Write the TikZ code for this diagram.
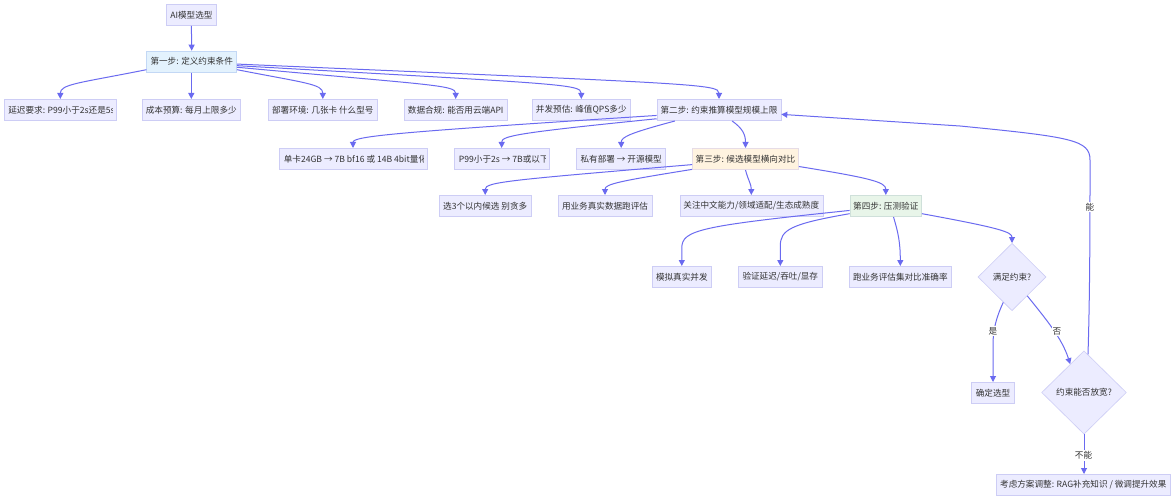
\documentclass[tikz,border=0pt]{standalone}
\usepackage{fontspec}
\setmainfont{Noto Sans CJK SC}
\usetikzlibrary{arrows.meta,shapes.geometric,calc}
\definecolor{nfill}{HTML}{ECECFF}
\definecolor{nbord}{HTML}{CDCDF5}
\definecolor{bluefill}{HTML}{E3F2FD}
\definecolor{bluebord}{HTML}{C3D8F5}
\definecolor{orfill}{HTML}{FFF3E0}
\definecolor{orbord}{HTML}{E6DCE6}
\definecolor{grfill}{HTML}{E8F5E9}
\definecolor{grbord}{HTML}{CFE0DA}
\definecolor{edgec}{HTML}{6A6AF0}
\definecolor{txtc}{HTML}{333333}
\tikzset{
  box/.style={rectangle, draw=nbord, fill=nfill, line width=0.6pt, minimum height=21.4pt, inner sep=0pt, text=txtc, font=\fontsize{8.6pt}{10pt}\selectfont},
  stepblue/.style={box, fill=bluefill, draw=bluebord},
  steporange/.style={box, fill=orfill, draw=orbord},
  stepgreen/.style={box, fill=grfill, draw=grbord},
  dia/.style={diamond, draw=nbord, fill=nfill, line width=0.6pt, inner sep=0pt, text=txtc, font=\fontsize{8.6pt}{10pt}\selectfont},
  txt/.style={inner sep=0pt, text=txtc, font=\fontsize{8.6pt}{10pt}\selectfont},
  edge/.style={draw=edgec, line width=1pt, -{Triangle[length=6pt,width=6pt]}},
  lbl/.style={fill=white, inner sep=1.2pt, text=txtc, font=\fontsize{8.6pt}{10pt}\selectfont},
}
\begin{document}
\begin{tikzpicture}[x=1pt,y=-1pt]
\useasboundingbox[fill=white] (0,0) rectangle (1175,500);

% nodes
\node[box, minimum width=50.6pt] (ai) at (191.4,14.8) {AI模型选型};
\node[stepblue, minimum width=90pt] (s1) at (191.7,61.7) {第一步: 定义约束条件};

\node[box, minimum width=112.7pt] (nlat) at (60.3,110) {};
\node[box, minimum width=97.3pt] (ncost) at (191.3,110) {成本预算: 每月上限多少};
\node[box, minimum width=109pt] (ndep) at (322.8,110) {部署环境: 几张卡 什么型号};
\node[box, minimum width=103.3pt] (ndata) at (455.7,110) {数据合规: 能否用云端API};
\node[box, minimum width=97.3pt] (nqps) at (581.3,110) {并发预估: 峰值QPS多少};
\node[box, minimum width=124pt] (s2) at (719,110) {第二步: 约束推算模型规模上限};

\node[box, minimum width=148.2pt] (ncard) at (353,159) {};
\node[box, minimum width=95.3pt] (np99) at (501.7,159) {};
\node[box, minimum width=89pt] (npriv) at (621.2,159) {私有部署 → 开源模型};
\node[steporange, minimum width=106.2pt] (s3) at (745.5,159) {第三步: 候选模型横向对比};

\node[box, minimum width=92.5pt] (npick) at (485.2,206) {选3个以内候选 别贪多};
\node[box, minimum width=94pt] (nreal) at (605,206) {用业务真实数据跑评估};
\node[box, minimum width=143pt] (ncn) at (751.3,206) {关注中文能力/领域适配/生态成熟度};
\node[stepgreen, minimum width=71.7pt] (s4) at (885.8,206) {第四步: 压测验证};

\node[box, minimum width=59.7pt] (nsim) at (681.8,277) {模拟真实并发};
\node[box, minimum width=84pt] (nver) at (780.3,277) {验证延迟/吞吐/显存};
\node[box, minimum width=102.7pt] (nrun) at (900.3,277) {跑业务评估集对比准确率};
\node[dia, minimum width=68pt, minimum height=67.4pt] (d1) at (1012,277) {满足约束?};

\node[box, minimum width=42.6pt, minimum height=21pt] (nok) at (993,392.8) {确定选型};
\node[dia, minimum width=84.7pt, minimum height=83.3pt] (d2) at (1084,392.5) {约束能否放宽?};
\node[box, minimum width=174.7pt] (nadj) at (1083.3,485) {考虑方案调整: RAG补充知识 / 微调提升效果};

% clipped texts
\begin{scope}
\clip ([xshift=4pt]nlat.south west) rectangle ([xshift=-4pt]nlat.north east);
\node[txt, anchor=west] (tlat) at ([xshift=4.5pt]nlat.west) {延迟要求: P99小于2s还是5s};
\end{scope}
\begin{scope}
\clip ([xshift=4pt]ncard.south west) rectangle ([xshift=-4pt]ncard.north east);
\node[txt, anchor=west] (tcard) at ([xshift=5pt]ncard.west) {单卡24GB → 7B bf16 或 14B 4bit量化};
\end{scope}
\begin{scope}
\clip ([xshift=4pt]np99.south west) rectangle ([xshift=-4pt]np99.north east);
\node[txt, anchor=west] (tp99) at ([xshift=5pt]np99.west) {P99小于2s → 7B或以下};
\end{scope}

% edges
\draw[edge] (ai.south) -- (s1.north);
\draw[edge] (s1.190) .. controls (80,83) and (60.3,84) .. (nlat.north);
\draw[edge] (s1.south -| ncost.north) -- (ncost.north);
\draw[edge] (s1.-10) .. controls (305,83) and (322.8,84) .. (ndep.north);
\draw[edge] (s1.-7) .. controls (430,85) and (455.7,85) .. (ndata.north);
\draw[edge] (s1.-5) .. controls (560,84) and (581.3,84) .. (nqps.north);
\draw[edge] (s1.-3) .. controls (700,84) and (719,84) .. (s2.north);

\draw[edge] (s2.185) .. controls (400,132) and (353,136) .. (ncard.north);
\draw[edge] (s2.188) .. controls (515,133) and (501.7,136) .. (np99.north);
\draw[edge] (s2.194) .. controls (630,133) and (621.2,137) .. (npriv.north);
\draw[edge] (s2.320) .. controls (742,128) and (745.5,134) .. (s3.north);

\draw[edge] (s3.186.5) .. controls (510,180) and (485.2,182) .. (npick.north);
\draw[edge] (s3.191) .. controls (620,181) and (605,184) .. (nreal.north);
\draw[edge] (s3.south) .. controls (748,180) and (751.3,184) .. (ncn.north);
\draw[edge] (s3.352.5) .. controls (870,178) and (885.8,182) .. (s4.north);

\draw[edge] (s4.187) .. controls (700,226) and (681.8,230) .. (681.8,248) -- (nsim.north);
\draw[edge] (s4.192.5) .. controls (790,224) and (780.3,230) .. (780.3,246) -- (nver.north);
\draw[edge] (s4.305) .. controls (898,232) and (900.3,242) .. (nrun.north);
\draw[edge] (s4.348.5) .. controls (1000,228) and (1012,232) .. (d1.north);

\draw[edge] (d1.251) .. controls (996,318) and (993,330) .. (993,345) -- (nok.north);
\draw[edge] (d1.309) .. controls (1045,318) and (1062,338) .. (d2.116);
\draw[edge] (d2.south) -- (d2.south |- nadj.north);
\draw[edge] (d2.84) .. controls (1090,290) and (1090,220) .. (1090,160) .. controls (1090,140) and (1072,137) .. (960,126) -- (s2.-4);

% labels
\node[lbl] (lyes) at (993,331) {是};
\node[lbl] (lno) at (1057,331) {否};
\node[lbl] (lcant) at (1083.5,455.5) {不能};
\node[lbl] (lcan) at (1090,207) {能};
\end{tikzpicture}
\end{document}
